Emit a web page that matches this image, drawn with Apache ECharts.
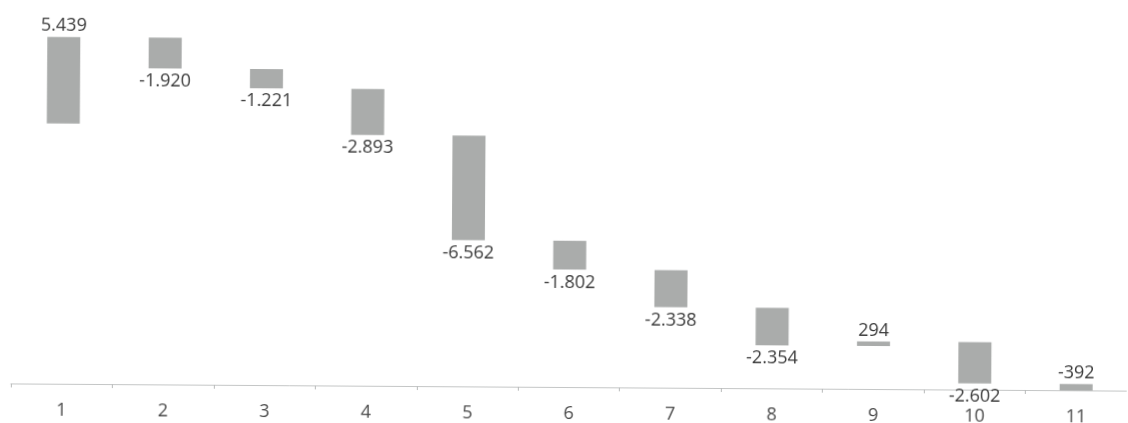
<!DOCTYPE html>
<html>
<head>
<meta charset="utf-8">
<script src="https://cdn.jsdelivr.net/npm/echarts@6/dist/echarts.min.js"></script>
<style>
  html, body { margin: 0; padding: 0; background: #fff; overflow: hidden; }
  /* the source is a slightly skewed scan: right side sits a few px lower */
  #chart { width: 1128px; height: 423px; transform: rotate(0.37deg); transform-origin: 50% 50%; }
</style>
</head>
<body>
<div id="chart"></div>
<script>
// waterfall: first bar is the starting total, the rest are changes
var categories = ['1', '2', '3', '4', '5', '6', '7', '8', '9', '10', '11'];
var changes = [5439, -1920, -1221, -2893, -6562, -1802, -2338, -2354, 294, -2602, -392];

// running start / end of every step
var steps = [];
var run = 0;
changes.forEach(function (d, i) {
    steps.push([i, run, run + d, d]);
    run += d;
});

// 5439 -> "5.439"
function fmt(v) {
    var s = Math.abs(v).toString().replace(/\B(?=(\d{3})+(?!\d))/g, '.');
    return (v < 0 ? '-' : '') + s;
}

var barColor = '#aaacab';
var textFont = '18px "Open Sans", sans-serif';

var chart = echarts.init(document.getElementById('chart'));
chart.setOption({
    animation: false,
    grid: { left: 12, right: -4, top: 15.5, bottom: 34 },
    xAxis: {
        type: 'category',
        data: categories,
        axisLine: { onZero: false, lineStyle: { color: '#c4c6c6', width: 1 } },
        axisTick: { show: true, length: 4, lineStyle: { color: '#b8baba' } },
        axisLabel: { color: '#4a4a4a', fontSize: 18, fontFamily: 'Open Sans', margin: 18 }
    },
    yAxis: {
        type: 'value',
        min: -16350,
        max: 7000,
        show: false,
        splitLine: { show: false }
    },
    series: [{
        type: 'custom',
        clip: false,
        data: steps,
        encode: { x: 0, y: [1, 2] },
        renderItem: function (params, api) {
            var i = api.value(0), a = api.value(1), b = api.value(2), d = api.value(3);
            var top = api.coord([i, Math.max(a, b)]);
            var bot = api.coord([i, Math.min(a, b)]);
            var w = 33;
            var h = Math.max(bot[1] - top[1], 2);
            // the last bar sits on the axis, so its label goes on top
            var above = d > 0 || i === categories.length - 1;
            return {
                type: 'group',
                children: [{
                    type: 'rect',
                    shape: { x: top[0] - w / 2, y: top[1], width: w, height: h },
                    style: { fill: barColor }
                }, {
                    type: 'text',
                    style: {
                        text: fmt(d),
                        x: top[0],
                        y: above ? top[1] - 2 : top[1] + h + 4,
                        align: 'center',
                        verticalAlign: above ? 'bottom' : 'top',
                        font: textFont,
                        fill: '#3a3a3a'
                    }
                }]
            };
        }
    }]
});
</script>
</body>
</html>
